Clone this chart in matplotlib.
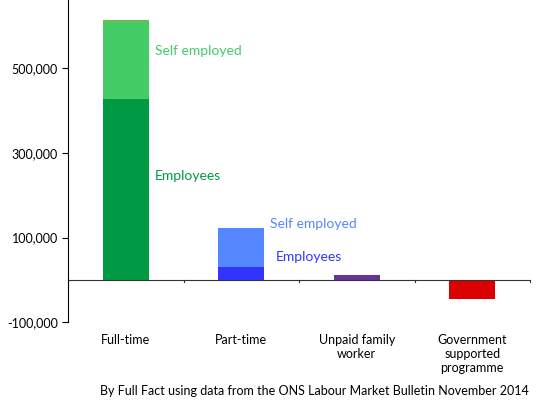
import matplotlib
matplotlib.use("Agg")
import matplotlib.pyplot as plt

categories = ["Full-time", "Part-time", "Unpaid family\nworker", "Government\nsupported\nprogramme"]
employees = [426000, 30000, 0, 0]
self_employed = [185000, 92000, 0, 0]
other = [3000, 0, 0, 0]
unpaid = [0, 0, 11000, 0]
government = [0, 0, 0, -45000]
yticks = [-100000, 100000, 300000, 500000]

plt.rcParams['font.family'] = ['Lato', 'DejaVu Sans']
fig = plt.figure(figsize=(5.37, 4.03), dpi=100)
ax = fig.add_axes([0.127, 0.2, 0.86, 0.8])
x = range(len(categories))
w = 0.4
ax.bar(x, employees, w, color=["#009944", "#3333ff", "#009944", "#009944"])
ax.bar(x, self_employed, w, bottom=employees, color=["#44cc66", "#5588ff", "#44cc66", "#44cc66"])
b2 = [e + s for e, s in zip(employees, self_employed)]
ax.bar(x, other, w, bottom=b2, color="#99aa33")
ax.bar(x, unpaid, w, color="#663399")
ax.bar(x, government, w, color="#dd0000")

ax.text(0.25, 530000, "Self employed", color="#44cc66", fontsize=10)
ax.text(0.25, 235000, "Employees", color="#009944", fontsize=10)
ax.text(1.25, 122000, "Self employed", color="#5588ff", fontsize=10)
ax.text(1.3, 45000, "Employees", color="#3333ff", fontsize=10)

ax.set_xlim(-0.5, 3.5)
ax.set_ylim(-100000, 660000)
ax.set_yticks(yticks)
ax.set_yticklabels(["{:,}".format(v) for v in yticks], fontsize=9)
ax.set_xticks(list(x))
ax.set_xticklabels(categories, fontsize=9, linespacing=1.2)
ax.axhline(0, color="#333333", lw=0.8)
for s in ["top", "right", "bottom"]:
    ax.spines[s].set_visible(False)
ax.tick_params(axis='x', length=0, pad=8)
ax.tick_params(axis='y', length=4)
for xi in [0.5, 1.5, 2.5, 3.5]:
    ax.plot([xi, xi], [0, -5000], color="#333333", lw=0.8, clip_on=False)
fig.text(0.99, 0.015, "", ha="right")
t = fig.text(0.985, 0.02, "By Full Fact using data from the ONS Labour Market Bulletin November 2014",
             ha="right", fontsize=9)
fig.savefig("out.png", dpi=100)
